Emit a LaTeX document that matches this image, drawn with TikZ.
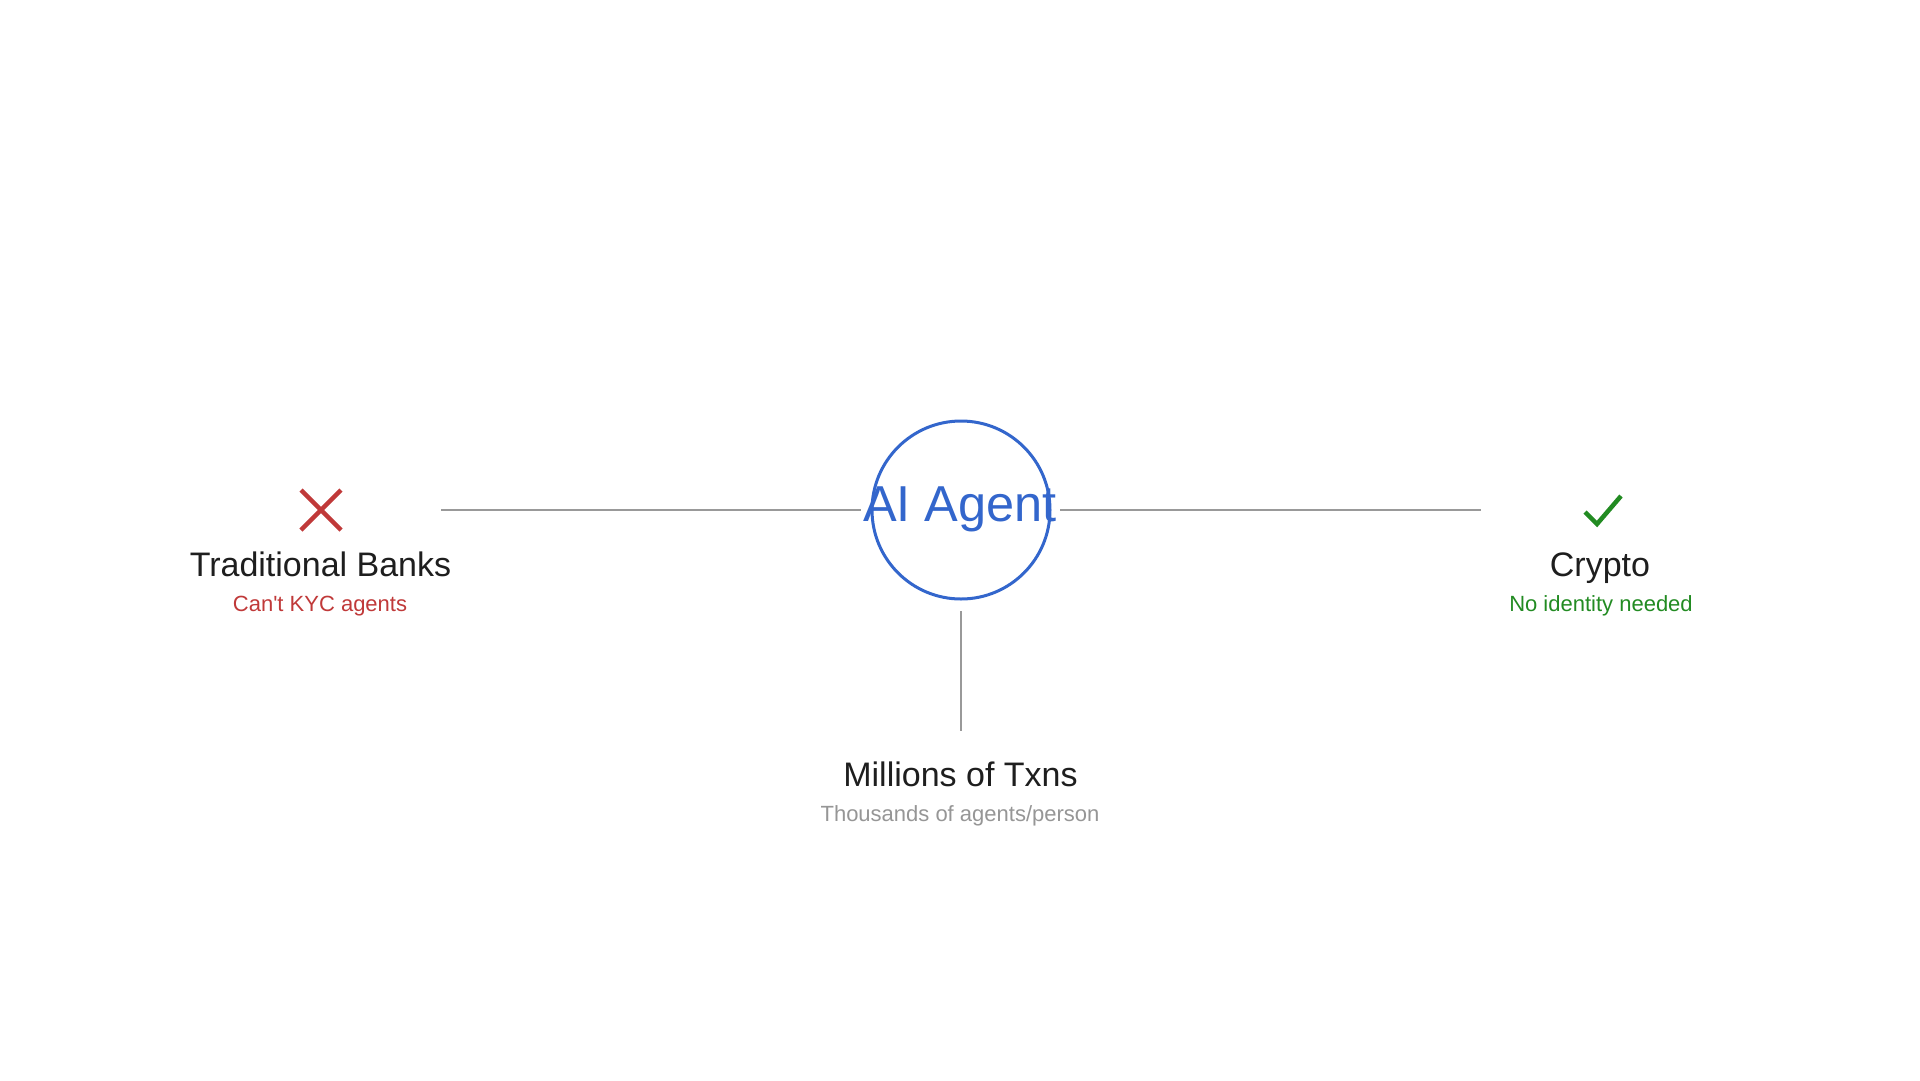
\documentclass[tikz,border=0pt]{standalone}
\usepackage{fontspec}
\setmainfont{Liberation Sans}[Ligatures=TeXOff]
\definecolor{agentblue}{RGB}{51,102,204}
\definecolor{badred}{RGB}{192,57,57}
\definecolor{goodgreen}{RGB}{34,139,34}
\definecolor{linegray}{RGB}{153,153,153}
\definecolor{subgray}{RGB}{150,150,150}
\definecolor{titledark}{RGB}{30,30,30}
\tikzset{
  conn/.style={draw=linegray, line width=2pt},
  titletext/.style={anchor=base, inner sep=0pt, text=titledark, font=\fontsize{34}{40}\selectfont},
  subtext/.style={anchor=base, inner sep=0pt, font=\fontsize{22}{26}\selectfont},
  markstroke/.style={line width=4.5pt, line cap=butt, line join=miter}
}
\begin{document}
\begin{tikzpicture}[x=1pt,y=-1pt]
  \useasboundingbox[fill=white] (0,0) rectangle (1920,1080);
  % central agent
  \node (agent) [circle, draw=agentblue, line width=3pt, minimum size=178pt, inner sep=0pt] at (961,510) {};
  \node (agenttext) [anchor=base, inner sep=0pt, text=agentblue, font=\fontsize{50.5}{60}\selectfont] at (960,521.7) {AI Agent};
  % left: traditional banks
  \coordinate (xmark) at (321,510);
  \draw[markstroke, draw=badred] ([shift={(-20,-20)}]xmark) -- ([shift={(20,20)}]xmark)
                                ([shift={(-20,20)}]xmark) -- ([shift={(20,-20)}]xmark);
  \node (banks) [titletext] at (320.5,576.7) {Traditional Banks};
  \node (banksub) [subtext, text=badred] at (320,611.7) {Can't KYC agents};
  % right: crypto
  \coordinate (vmark) at (1598,510);
  \draw[markstroke, draw=goodgreen] ([shift={(-13,2)}]vmark) -- ([shift={(-1,14)}]vmark) -- ([shift={(23,-14)}]vmark);
  \node (crypto) [titletext] at (1600,576.7) {Crypto};
  \node (cryptosub) [subtext, text=goodgreen] at (1601,611.7) {No identity needed};
  % bottom: millions of txns
  \node (txns) [titletext] at (960.5,786) {Millions of Txns};
  \node (txnsub) [subtext, text=subgray] at (960,821.7) {Thousands of agents/person};
  % connector end points
  \coordinate (leftA) at (441,510);
  \coordinate (leftB) at (861,510);
  \coordinate (rightA) at (1060,510);
  \coordinate (rightB) at (1481,510);
  \coordinate (downA) at (961,611);
  \coordinate (downB) at (961,731);
  \draw[conn] (leftA) -- (leftB);
  \draw[conn] (rightA) -- (rightB);
  \draw[conn] (downA) -- (downB);
\end{tikzpicture}
\end{document}
